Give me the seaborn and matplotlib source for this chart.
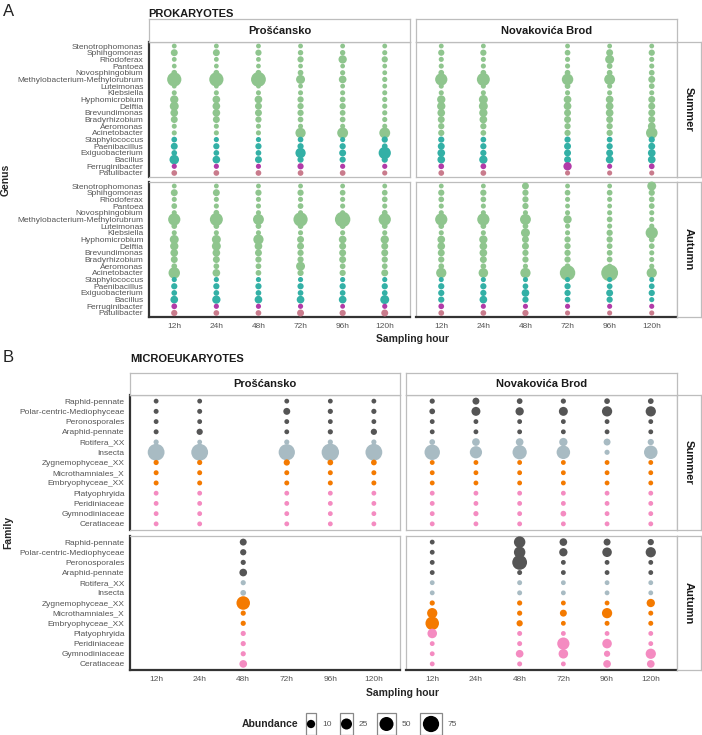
import matplotlib
matplotlib.use("Agg")
import matplotlib.colors as mcolors
import matplotlib.pyplot as plt
import pandas as pd
import seaborn as sns
from matplotlib.patches import Rectangle

# --- data (relative abundance, %) ---
hours = ["12h", "24h", "48h", "72h", "96h", "120h"]
sites = ["Prošćansko", "Novakovića Brod"]
seasons = ["Summer", "Autumn"]

genera = ["Stenotrophomonas", "Sphingomonas", "Rhodoferax", "Pantoea", "Novosphingobium",
          "Methylobacterium-Methylorubrum", "Luteimonas", "Klebsiella", "Hyphomicrobium",
          "Delftia", "Brevundimonas", "Bradyrhizobium", "Aeromonas", "Acinetobacter",
          "Staphylococcus", "Paenibacillus", "Exiguobacterium", "Bacillus",
          "Ferruginibacter", "Patulibacter"]
genus_phylum = ["Proteobacteria"] * 14 + ["Firmicutes"] * 4 + ["Bacteroidota", "Actinobacteriota"]

families = ["Raphid-pennate", "Polar-centric-Mediophyceae", "Peronosporales", "Araphid-pennate",
            "Rotifera_XX", "Insecta", "Zygnemophyceae_XX", "Microthamniales_X",
            "Embryophyceae_XX", "Platyophryida", "Peridiniaceae", "Gymnodiniaceae", "Ceratiaceae"]
family_group = ["Stramenopiles"] * 4 + ["Opisthokonta"] * 2 + ["Archaeplastida"] * 3 + ["Alveolata"] * 4

# one list per sampling hour (None = not sampled), values in genus order
prok_pros_summer = [
    [0.3, 5, 0.3, 0.2, 1.8, 52, 0.3, 0.6, 10, 13, 7.5, 5, 0.6, 0.7, 1.8, 5, 1.8, 16, 0.8, 1.8],
    [0.3, 5, 0.3, 0.2, 1.8, 52, 0.3, 0.6, 7.5, 7.5, 7.5, 5, 0.6, 0.7, 0.8, 3, 1.8, 7.5, 0.8, 1.8],
    [0.3, 3, 0.3, 0.2, 1.8, 58, 0.3, 0.6, 7.5, 5, 5, 3, 0.6, 0.7, 0.8, 3, 1.8, 5, 0.8, 1.8],
    [0.3, 1.2, 3, 0.2, 1.8, 13, 0.3, 0.6, 3, 3, 3, 1.8, 0.6, 20, 1.8, 3, 20, 3, 3, 1.8],
    [0.3, 1.2, 10, 0.2, 0.8, 7.5, 0.3, 0.6, 1.8, 3, 1.8, 1.8, 0.6, 24, 0.8, 3, 5, 3, 0.8, 1.8],
    [0.3, 0.7, 3, 0.2, 0.3, 0.8, 0.3, 0.6, 0.8, 0.8, 0.8, 0.8, 0.6, 24, 3, 1.8, 34, 3, 0.8, 0.8],
]
prok_pros_autumn = [
    [0.3, 5, 0.7, 1.8, 0.7, 34, 1.8, 0.7, 13, 10, 7.5, 5, 1.8, 28, 0.8, 3, 1.8, 7.5, 1.8, 3],
    [0.3, 5, 0.7, 0.7, 1.8, 40, 1.8, 0.7, 13, 13, 7.5, 5, 1.8, 7.5, 0.8, 3, 1.8, 10, 0.8, 1.8],
    [0.3, 3, 0.7, 0.7, 0.7, 24, 1.8, 0.7, 20, 7.5, 5, 3, 1.8, 1.8, 0.8, 3, 1.8, 7.5, 0.8, 1.8],
    [0.3, 3, 0.7, 1.8, 0.7, 52, 1.8, 0.7, 5, 5, 3, 3, 13, 3, 0.8, 3, 1.8, 7.5, 0.8, 5],
    [0.3, 1.8, 0.7, 0.7, 0.7, 65, 1.8, 0.7, 7.5, 5, 5, 5, 1.8, 3, 0.8, 3, 1.8, 7.5, 0.3, 3],
    [0.3, 1.8, 1.8, 0.7, 1.8, 34, 1.8, 0.7, 10, 5, 5, 3, 1.8, 5, 0.8, 3, 1.8, 13, 0.8, 5],
]
prok_nova_summer = [
    [0.3, 3, 0.7, 0.7, 1.8, 34, 0.7, 0.7, 10, 10, 7.5, 5, 3, 3, 3, 5, 7.5, 7.5, 1.8, 1.8],
    [0.3, 3, 0.7, 0.7, 1.8, 40, 0.7, 0.7, 13, 13, 10, 7.5, 3, 1.8, 1.8, 3, 3, 10, 1.8, 1.8],
    None,
    [0.3, 1.8, 0.7, 0.7, 1.8, 28, 1.8, 0.7, 7.5, 7.5, 5, 5, 3, 3, 3, 5, 5, 5, 10, 0.7],
    [0.3, 5, 13, 1.8, 1.8, 24, 0.7, 0.7, 7.5, 7.5, 7.5, 5, 3, 3, 1.8, 3, 5, 7.5, 0.7, 0.7],
    [0.3, 3, 0.7, 0.7, 1.8, 5, 1.8, 0.7, 5, 5, 5, 5, 7.5, 28, 3, 5, 7.5, 7.5, 1.8, 0.7],
]
prok_nova_autumn = [
    [0.3, 3, 1.8, 0.7, 0.7, 34, 1.8, 0.7, 7.5, 7.5, 5, 3, 1.8, 20, 0.7, 3, 3, 3, 1.8, 1.8],
    [0.3, 3, 1.8, 0.7, 0.7, 34, 1.8, 0.7, 10, 7.5, 7.5, 5, 1.8, 16, 0.7, 3, 3, 7.5, 0.7, 1.8],
    [5, 3, 3, 3, 0.7, 24, 1.8, 13, 5, 5, 3, 3, 0.7, 20, 0.7, 1.8, 7.5, 3, 0.7, 3],
    [0.3, 1.8, 0.7, 0.3, 0.7, 10, 0.7, 0.7, 3, 3, 3, 3, 1.8, 65, 0.7, 3, 3, 1.8, 0.7, 0.7],
    [0.3, 1.8, 0.7, 0.3, 0.7, 1.8, 0.7, 3, 3, 1.8, 1.8, 1.8, 0.7, 82, 0.7, 1.8, 5, 3, 0.7, 0.7],
    [13, 3, 1.8, 1.8, 0.7, 0.7, 0.7, 34, 1.8, 1.8, 0.7, 0.7, 0.7, 20, 0.7, 1.8, 3, 0.7, 0.7, 0.7],
]

euk_pros_summer = [
    [0.3, 0.5, 0.3, 0.5, 0.8, 82, 0.8, 0.5, 0.5, 0.3, 0.3, 0.3, 0.3],
    [0.3, 0.5, 0.3, 3, 0.3, 82, 0.8, 0.5, 0.5, 0.3, 0.3, 0.3, 0.3],
    None,
    [0.3, 5, 0.3, 0.3, 0.8, 75, 3, 0.5, 0.5, 0.3, 0.3, 0.3, 0.3],
    [0.3, 0.8, 0.3, 0.8, 0.8, 90, 1.8, 0.5, 0.5, 0.3, 0.3, 0.3, 0.3],
    [0.3, 0.8, 0.3, 3, 0.8, 82, 1.8, 0.5, 0.5, 0.3, 0.3, 0.3, 0.3],
]
euk_pros_autumn = [
    None,
    None,
    [5, 3, 0.8, 7.5, 0.8, 1.8, 45, 0.8, 0.8, 0.8, 0.8, 0.8, 7.5],
    None,
    None,
    None,
]
euk_nova_summer = [
    [0.8, 1.8, 0.3, 0.3, 1.8, 65, 0.3, 0.3, 0.3, 0.3, 0.3, 0.3, 0.3],
    [5, 13, 0.3, 0.3, 7.5, 34, 0.3, 0.3, 0.3, 0.3, 0.3, 0.8, 0.3],
    [1.8, 10, 0.3, 0.3, 7.5, 52, 0.3, 0.3, 0.3, 0.3, 0.3, 0.3, 0.3],
    [0.8, 13, 0.3, 0.3, 10, 45, 0.3, 0.3, 0.3, 0.3, 0.3, 1.8, 0.3],
    [1.8, 20, 0.3, 0.3, 5, 0.8, 0.3, 0.3, 0.3, 0.3, 0.3, 0.3, 0.3],
    [1.8, 20, 0.3, 0.3, 3, 45, 0.3, 0.3, 0.3, 0.3, 0.3, 0.3, 0.3],
]
euk_nova_autumn = [
    [0.3, 0.3, 0.3, 0.3, 0.3, 0.3, 0.8, 20, 45, 16, 0.3, 0.3, 0.3],
    None,
    [28, 28, 58, 0.5, 0.5, 0.5, 0.8, 0.8, 3, 0.5, 0.5, 7.5, 0.5],
    [7.5, 10, 0.3, 0.3, 0.3, 0.3, 0.3, 5, 0.3, 0.3, 34, 16, 0.3],
    [5, 16, 0.3, 0.3, 0.3, 0.3, 0.3, 20, 0.5, 0.3, 16, 3, 7.5],
    [3, 20, 0.3, 0.3, 0.3, 0.3, 10, 0.5, 0.5, 0.3, 0.3, 20, 7.5],
]

legend_values = [10, 25, 50, 75]

prok_palette = {"Proteobacteria": "#8FC58E", "Firmicutes": "#33B0A6",
                "Bacteroidota": "#B23BA8", "Actinobacteriota": "#C97B8C"}
euk_palette = {"Stramenopiles": "#555555", "Opisthokonta": "#A8BBC3",
               "Archaeplastida": "#F47A00", "Alveolata": "#F48BC1"}

# --- style ---
sns.set_style("white")
plt.rcParams["font.family"] = ["Liberation Sans", "DejaVu Sans"]

W, H = 702, 735
fig = plt.figure(figsize=(W / 100, H / 100), dpi=100)

SIZE_NORM = mcolors.PowerNorm(gamma=0.8, vmin=0, vmax=100)
SIZES = (10.5, 170)
DARK = "#333333"
BORDER = "#BDBDBD"
TICKTXT = "#555555"


def px_axes(x0, y0, x1, y1):
    return fig.add_axes([x0 / W, 1 - y1 / H, (x1 - x0) / W, (y1 - y0) / H])


def panel_frame(values, groups):
    rows = []
    for h, col in enumerate(values):
        if col is None:
            continue
        for i, v in enumerate(col):
            rows.append({"hour": h, "taxon": i, "group": groups[i], "abundance": v})
    return pd.DataFrame(rows)


def draw_panel(ax, values, taxa, groups, palette, left, bottom):
    df = panel_frame(values, groups)
    if len(df):
        sns.scatterplot(data=df, x="hour", y="taxon", hue="group", size="abundance",
                        palette=palette, sizes=SIZES, size_norm=SIZE_NORM,
                        linewidth=0, legend=False, ax=ax, zorder=3, clip_on=False)
    ax.set_xlim(-0.6, len(hours) - 0.4)
    ax.set_ylim(len(taxa) - 0.4, -0.6)
    ax.set_xlabel("")
    ax.set_ylabel("")
    for sp in ax.spines.values():
        sp.set_color(BORDER)
        sp.set_linewidth(0.9)
    ax.set_xticks(range(len(hours)))
    ax.set_yticks(range(len(taxa)))
    ax.tick_params(length=2.5, width=0.9, color=DARK, labelsize=6, labelcolor=TICKTXT, pad=1.5)
    if left:
        ax.spines["left"].set_color(DARK)
        ax.spines["left"].set_linewidth(1.6)
        ax.set_yticklabels(taxa)
    else:
        ax.tick_params(axis="y", left=False, labelleft=False)
    if bottom:
        ax.spines["bottom"].set_color(DARK)
        ax.spines["bottom"].set_linewidth(1.6)
        ax.set_xticklabels(hours)
    else:
        ax.tick_params(axis="x", bottom=False, labelbottom=False)


def strip(x0, y0, x1, y1, label, rotation=0):
    ax = px_axes(x0, y0, x1, y1)
    ax.set_xticks([])
    ax.set_yticks([])
    ax.set_facecolor("white")
    for sp in ax.spines.values():
        sp.set_color(BORDER)
        sp.set_linewidth(0.9)
    ax.text(0.5, 0.5, label, transform=ax.transAxes, ha="center", va="center",
            fontsize=8, fontweight="bold", color="#1A1A1A", rotation=rotation)


def draw_block(panels, taxa, groups, palette, cols, rows, strip_top, strip_right):
    for r, season in enumerate(seasons):
        for c, site in enumerate(sites):
            x0, x1 = cols[c]
            y0, y1 = rows[r]
            ax = px_axes(x0, y0, x1, y1)
            draw_panel(ax, panels[r][c], taxa, groups, palette, left=(c == 0), bottom=(r == 1))
        strip(strip_right[0], rows[r][0], strip_right[1], rows[r][1], season, rotation=270)
    for c, site in enumerate(sites):
        strip(cols[c][0], strip_top[0], cols[c][1], strip_top[1], site)


# --- A: prokaryotes ---
a_cols = [(149, 410), (416, 677)]
a_rows = [(42, 177), (182, 317)]
draw_block([[prok_pros_summer, prok_nova_summer], [prok_pros_autumn, prok_nova_autumn]],
           genera, genus_phylum, prok_palette, a_cols, a_rows, (19, 42), (677, 701))

# --- B: microeukaryotes ---
b_cols = [(130, 400), (406, 677)]
b_rows = [(395, 530), (536, 670)]
draw_block([[euk_pros_summer, euk_nova_summer], [euk_pros_autumn, euk_nova_autumn]],
           families, family_group, euk_palette, b_cols, b_rows, (373, 395), (677, 701))

# --- annotations ---
def fig_text(x, y, s, **kw):
    fig.text(x / W, 1 - y / H, s, **kw)


fig_text(3, 12, "A", fontsize=12, color="#222222", va="center")
fig_text(148, 14, "PROKARYOTES", fontsize=8, fontweight="bold", color="#1A1A1A", va="center")
fig_text(3, 358, "B", fontsize=12, color="#222222", va="center")
fig_text(130, 359, "MICROEUKARYOTES", fontsize=8, fontweight="bold", color="#1A1A1A", va="center")
fig_text(6, 180, "Genus", fontsize=7.5, fontweight="bold", rotation=90, ha="center", va="center")
fig_text(8, 532, "Family", fontsize=7.5, fontweight="bold", rotation=90, ha="center", va="center")
fig_text(413, 339, "Sampling hour", fontsize=7.5, fontweight="bold", ha="center", va="center")
fig_text(403, 693, "Sampling hour", fontsize=7.5, fontweight="bold", ha="center", va="center")

# --- size legend ---
leg = px_axes(0, 705, W, H)
leg.set_xlim(0, W)
leg.set_ylim(H, 705)
leg.axis("off")
leg.text(298, 724, "Abundance", fontsize=7.5, fontweight="bold", ha="right", va="center")
key_widths = [10, 13, 19, 22]
key_x = []
x = 306
for w in key_widths:
    key_x.append(x + w / 2)
    leg.add_patch(Rectangle((x, 713), w, 22, facecolor="white", edgecolor="#888888", lw=0.9))
    x += w + 24
leg_df = pd.DataFrame({"x": key_x, "y": [724] * 4, "abundance": legend_values})
sns.scatterplot(data=leg_df, x="x", y="y", size="abundance", sizes=SIZES, size_norm=SIZE_NORM,
                color="black", linewidth=0, legend=False, ax=leg, zorder=3)
leg.set_xlabel("")
leg.set_ylabel("")
for kx, w, v in zip(key_x, key_widths, legend_values):
    leg.text(kx + w / 2 + 6, 724, str(v), fontsize=6, color=TICKTXT, va="center")

fig.savefig("out.png", dpi=100, facecolor="white")
